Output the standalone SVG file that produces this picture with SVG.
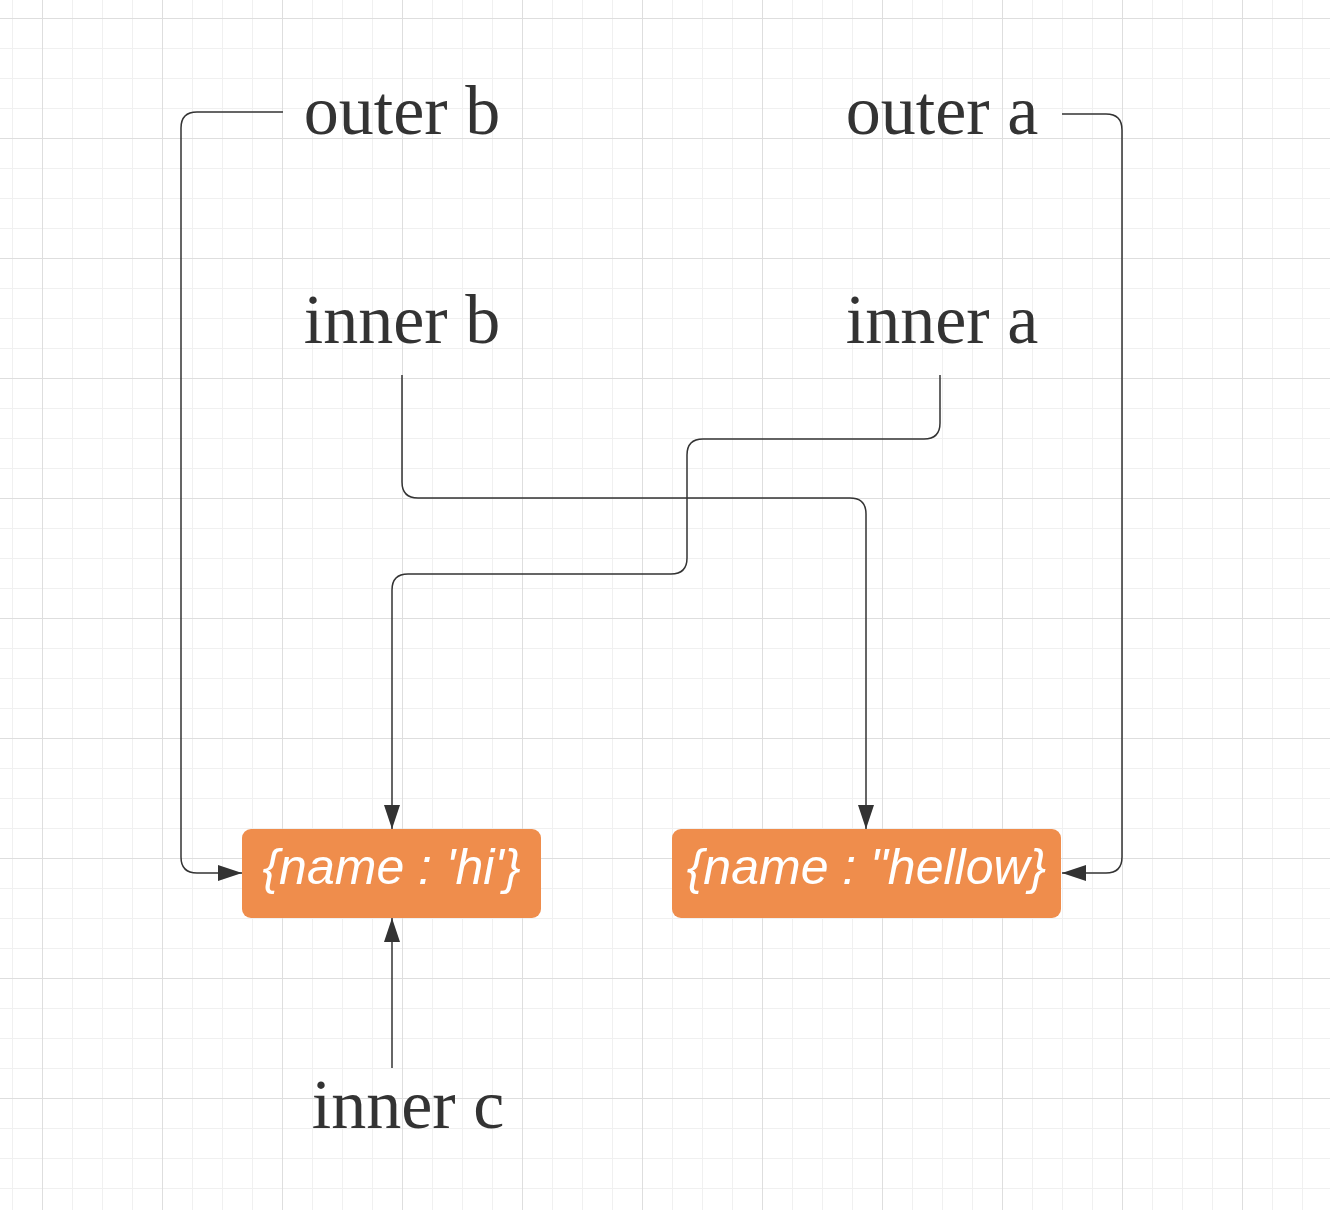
<svg xmlns="http://www.w3.org/2000/svg" width="1330" height="1210" viewBox="0 0 1330 1210">
<style>
.lbl{font-family:"Liberation Serif","Times New Roman",serif;font-size:70px;fill:#333;text-anchor:middle}
.btxt{font-family:"Liberation Sans",Arial,sans-serif;font-size:50px;font-style:italic;fill:#fff;text-anchor:middle}
.box{fill:#ef8d4c}
.conn path{fill:none;stroke:#333;stroke-width:1.5;marker-end:url(#arr)}
</style>
<defs>
<pattern id="minor" x="12" y="18" width="30" height="30" patternUnits="userSpaceOnUse"><path d="M0.5 0V30M0 0.5H30" stroke="#f0f0f0" stroke-width="1"/></pattern>
<pattern id="major" x="42" y="18" width="120" height="120" patternUnits="userSpaceOnUse"><path d="M0.5 0V120M0 0.5H120" stroke="#dedede" stroke-width="1"/></pattern>
<marker id="arr" markerUnits="userSpaceOnUse" markerWidth="25" markerHeight="17" refX="24" refY="8" orient="auto"><path d="M0 0L24 8L0 16z" fill="#333"/></marker>
</defs>
<rect width="1330" height="1210" fill="#fff"/>
<rect width="1330" height="1210" fill="url(#minor)"/>
<rect width="1330" height="1210" fill="url(#major)"/>
<g id="connectors" class="conn">
<path d="M283 112H197Q181 112 181 128V857Q181 873 197 873H242"/>
<path d="M402 375V482Q402 498 418 498H850Q866 498 866 514V829"/>
<path d="M940 375V423Q940 439 924 439H703Q687 439 687 455V558Q687 574 671 574H408Q392 574 392 590V829"/>
<path d="M392 1068V918"/>
<path d="M1062 114H1106Q1122 114 1122 130V857Q1122 873 1106 873H1062"/>
</g>
<g id="outer-b"><text class="lbl" x="402" y="134">outer b</text></g>
<g id="outer-a"><text class="lbl" x="942" y="134">outer a</text></g>
<g id="inner-b"><text class="lbl" x="402" y="343">inner b</text></g>
<g id="inner-a"><text class="lbl" x="942" y="343">inner a</text></g>
<g id="inner-c"><text class="lbl" x="408" y="1128">inner c</text></g>
<g id="box-hi"><rect class="box" x="242" y="829" width="299" height="89" rx="9"/><text class="btxt" x="391.5" y="884">{name : 'hi'}</text></g>
<g id="box-hellow"><rect class="box" x="672" y="829" width="389" height="89" rx="9"/><text class="btxt" x="866.5" y="884">{name : "hellow}</text></g>
</svg>
